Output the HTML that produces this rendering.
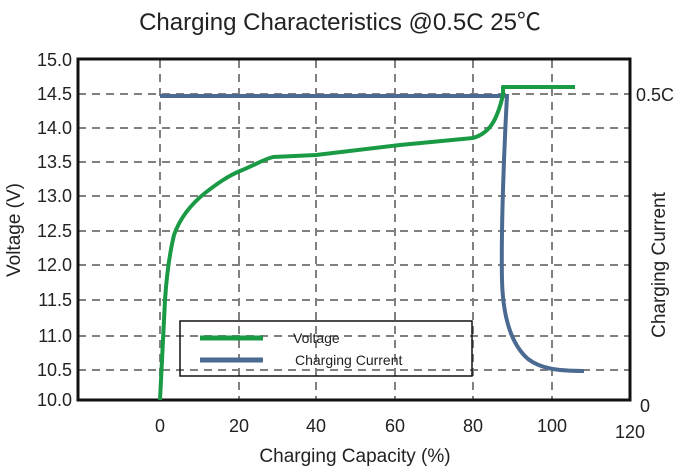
<!DOCTYPE html>
<html><head><meta charset="utf-8"><style>body{margin:0;background:#fff}svg{display:block}</style></head>
<body>
<svg width="680" height="472" viewBox="0 0 680 472" xmlns="http://www.w3.org/2000/svg" font-family="'Liberation Sans','Noto Sans CJK SC',sans-serif">
<rect width="680" height="472" fill="#fff"/>
<text x="340" y="30" font-size="24" text-anchor="middle" fill="#222">Charging Characteristics @0.5C 25℃</text>
<g stroke="#808080" stroke-width="2" stroke-dasharray="8,6">
<line x1="78" x2="630" y1="94" y2="94"/><line x1="78" x2="630" y1="128" y2="128"/>
<line x1="78" x2="630" y1="162" y2="162"/><line x1="78" x2="630" y1="196" y2="196"/>
<line x1="78" x2="630" y1="231" y2="231"/><line x1="78" x2="630" y1="265" y2="265"/>
<line x1="78" x2="630" y1="300" y2="300"/><line x1="78" x2="630" y1="336" y2="336"/>
<line x1="78" x2="630" y1="370" y2="370"/>
<line x1="160" x2="160" y1="60" y2="400"/><line x1="239" x2="239" y1="60" y2="400"/>
<line x1="316" x2="316" y1="60" y2="400"/><line x1="395" x2="395" y1="60" y2="400"/>
<line x1="473" x2="473" y1="60" y2="400"/><line x1="552" x2="552" y1="60" y2="400"/>
</g>
<rect x="78" y="59" width="552" height="341" fill="none" stroke="#111" stroke-width="3"/>
<g font-size="18" fill="#222" text-anchor="end">
<text x="72" y="66">15.0</text><text x="72" y="100">14.5</text><text x="72" y="134">14.0</text>
<text x="72" y="168">13.5</text><text x="72" y="202">13.0</text><text x="72" y="237">12.5</text>
<text x="72" y="271">12.0</text><text x="72" y="306">11.5</text><text x="72" y="342">11.0</text>
<text x="72" y="376">10.5</text><text x="72" y="406">10.0</text>
</g>
<g font-size="18" fill="#222" text-anchor="middle">
<text x="160" y="432">0</text><text x="239" y="432">20</text><text x="316" y="432">40</text>
<text x="395" y="432">60</text><text x="473" y="432">80</text><text x="552" y="432">100</text><text x="630" y="438">120</text>
</g>
<text x="636" y="101" font-size="18" fill="#222">0.5C</text>
<text x="640" y="412" font-size="18" fill="#222">0</text>
<text x="355" y="462" font-size="19" text-anchor="middle" fill="#222">Charging Capacity (%)</text>
<text transform="translate(20,230) rotate(-90)" font-size="19" text-anchor="middle" fill="#222">Voltage (V)</text>
<text transform="translate(665,265) rotate(-90)" font-size="19" text-anchor="middle" fill="#222">Charging Current</text>
<path d="M160,96 L507,96 C504,150 501,230 502,280 C503,320 512,345 528,359 C540,368 555,371 584,371" fill="none" stroke="#4a6a92" stroke-width="4"/>
<path d="M160,400 L163,340 L165,300 C166,285 168,260 174,235 C180,218 190,205 205,193 C218,183 228,176 240,171 C255,165 262,160 273,157 L316,155 L400,145 L473,138 C490,133 497,120 503,95 L503,87 L575,87" fill="none" stroke="#1a9a45" stroke-width="4" stroke-linejoin="round"/>
<rect x="180" y="321" width="292" height="55" fill="none" stroke="#111" stroke-width="1.5"/>
<line x1="200" x2="263" y1="338" y2="338" stroke="#1a9a45" stroke-width="5"/>
<line x1="200" x2="263" y1="360" y2="360" stroke="#4a6a92" stroke-width="5"/>
<text x="293" y="343" font-size="14" fill="#222">Voltage</text>
<text x="295" y="365" font-size="14" fill="#222">Charging Current</text>
</svg>
</body></html>
